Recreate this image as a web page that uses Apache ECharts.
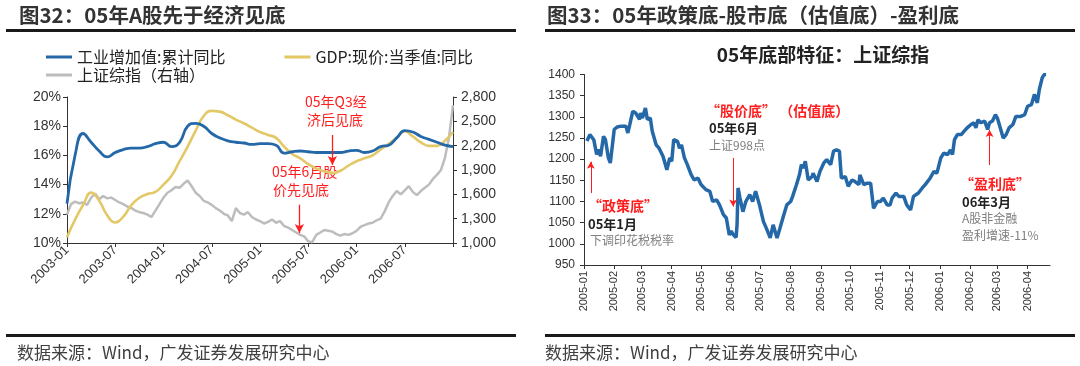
<!DOCTYPE html>
<html><head><meta charset="utf-8">
<script src="https://cdn.jsdelivr.net/npm/echarts@6/dist/echarts.min.js"></script>
<style>html,body{margin:0;padding:0;background:#fff}#c{width:1080px;height:366px}</style>
</head><body><div id="c"></div>
<script>
// ================= LEFT CHART DATA (图32) =================
const leftMonths = ['2003-01','2003-02','2003-03','2003-04','2003-05','2003-06','2003-07','2003-08','2003-09','2003-10','2003-11','2003-12',
  '2004-01','2004-02','2004-03','2004-04','2004-05','2004-06','2004-07','2004-08','2004-09','2004-10','2004-11','2004-12',
  '2005-01','2005-02','2005-03','2005-04','2005-05','2005-06','2005-07','2005-08','2005-09','2005-10','2005-11','2005-12',
  '2006-01','2006-02','2006-03','2006-04','2006-05','2006-06','2006-07','2006-08','2006-09','2006-10','2006-11','2006-12','2007-01'];
const leftTickLabels = ['2003-01','2003-07','2004-01','2004-07','2005-01','2005-07','2006-01','2006-07'];
const industryYoY = [12.7,16.0,17.5,16.9,16.3,15.9,16.2,16.4,16.5,16.5,16.6,16.8,
  16.9,16.6,16.9,18.0,18.2,18.0,17.5,17.2,17.0,16.9,16.85,16.75,
  16.8,16.8,16.7,16.15,16.25,16.3,16.25,16.2,16.2,16.2,16.2,16.3,
  16.35,16.2,16.3,16.6,16.7,17.2,17.7,17.6,17.3,17.1,16.9,16.7,16.6];
const gdpYoY = [10.4,11.6,12.6,13.45,12.9,11.9,11.4,11.8,12.6,13.1,13.35,13.5,
  14.0,14.6,15.6,16.6,17.7,18.7,19.05,19.0,18.75,18.45,18.2,17.9,
  17.6,17.4,17.2,16.6,16.1,15.8,15.4,15.1,14.9,14.8,14.95,15.3,
  15.6,15.8,16.0,16.4,16.8,17.2,17.65,17.3,16.9,16.65,16.65,17.0,17.6];
const sseDates = ['2003-01-01','2003-01-16','2003-02-01','2003-02-16','2003-03-01','2003-03-16','2003-04-01','2003-04-16','2003-05-01','2003-05-16','2003-06-01','2003-06-16',
  '2003-07-01','2003-07-16','2003-08-01','2003-08-16','2003-09-01','2003-09-16','2003-10-01','2003-10-16','2003-11-01','2003-11-16','2003-12-01','2003-12-16',
  '2004-01-01','2004-01-16','2004-02-01','2004-02-16','2004-03-01','2004-03-16','2004-04-01','2004-04-16','2004-05-01','2004-05-16','2004-06-01','2004-06-16',
  '2004-07-01','2004-07-16','2004-08-01','2004-08-16','2004-09-01','2004-09-16','2004-10-01','2004-10-16','2004-11-01','2004-11-16','2004-12-01','2004-12-16',
  '2005-01-01','2005-01-16','2005-02-01','2005-02-16','2005-03-01','2005-03-16','2005-04-01','2005-04-16','2005-05-01','2005-05-16','2005-06-01','2005-06-16',
  '2005-07-01','2005-07-16','2005-08-01','2005-08-16','2005-09-01','2005-09-16','2005-10-01','2005-10-16','2005-11-01','2005-11-16','2005-12-01','2005-12-16',
  '2006-01-01','2006-01-16','2006-02-01','2006-02-16','2006-03-01','2006-03-16','2006-04-01','2006-04-16','2006-05-01','2006-05-16','2006-06-01','2006-06-16',
  '2006-07-01','2006-07-16','2006-08-01','2006-08-16','2006-09-01','2006-09-16','2006-10-01','2006-10-16','2006-11-01','2006-11-16','2006-12-01','2006-12-16','2007-01-01'];
const sseValues = [1350,1480,1510,1490,1500,1470,1560,1610,1540,1580,1550,1560,
  1530,1500,1480,1450,1430,1400,1380,1370,1350,1320,1400,1480,
  1560,1620,1650,1690,1680,1730,1770,1700,1620,1580,1520,1500,
  1470,1430,1400,1360,1340,1270,1430,1370,1350,1380,1320,1290,
  1270,1240,1260,1290,1250,1270,1210,1190,1160,1130,1100,1080,
  1020,1010,1100,1130,1160,1150,1140,1110,1090,1110,1100,1120,
  1150,1200,1220,1240,1250,1280,1300,1390,1500,1580,1640,1600,
  1650,1700,1630,1590,1640,1680,1720,1790,1840,1900,2050,2300,2700];

// ================= RIGHT CHART DATA (图33) =================
const rDates = ['2005-01-04','2005-01-07','2005-01-11','2005-01-14','2005-01-16','2005-01-18','2005-01-21','2005-01-23','2005-01-26','2005-01-28',
  '2005-02-01','2005-02-04','2005-02-08','2005-02-13','2005-02-15','2005-02-17','2005-02-20','2005-02-23','2005-02-27','2005-02-28',
  '2005-03-02','2005-03-05','2005-03-07','2005-03-10','2005-03-12','2005-03-16','2005-03-19','2005-03-23','2005-03-25','2005-03-27','2005-03-30',
  '2005-04-01','2005-04-03','2005-04-07','2005-04-09','2005-04-11','2005-04-14','2005-04-17','2005-04-21','2005-04-24','2005-04-28',
  '2005-05-01','2005-05-06','2005-05-10','2005-05-13','2005-05-17','2005-05-20','2005-05-24','2005-05-27','2005-05-30',
  '2005-06-01','2005-06-03','2005-06-06','2005-06-07','2005-06-08','2005-06-10','2005-06-13','2005-06-16','2005-06-20','2005-06-23','2005-06-26','2005-06-30',
  '2005-07-04','2005-07-07','2005-07-11','2005-07-14','2005-07-18','2005-07-21','2005-07-24','2005-07-28',
  '2005-08-01','2005-08-03','2005-08-07','2005-08-10','2005-08-12','2005-08-14','2005-08-16','2005-08-19','2005-08-23','2005-08-24','2005-08-28','2005-08-31',
  '2005-09-04','2005-09-07','2005-09-11','2005-09-14','2005-09-17','2005-09-20','2005-09-22','2005-09-26','2005-09-29',
  '2005-10-03','2005-10-06','2005-10-10','2005-10-11','2005-10-15','2005-10-18','2005-10-22','2005-10-25','2005-10-29',
  '2005-11-01','2005-11-04','2005-11-08','2005-11-11','2005-11-13','2005-11-17','2005-11-20','2005-11-25','2005-11-28',
  '2005-12-02','2005-12-05','2005-12-10','2005-12-14','2005-12-17','2005-12-22','2005-12-26','2005-12-29',
  '2006-01-02','2006-01-05','2006-01-09','2006-01-12','2006-01-14','2006-01-16','2006-01-19','2006-01-23','2006-01-26','2006-01-29',
  '2006-02-02','2006-02-05','2006-02-07','2006-02-09','2006-02-12','2006-02-16','2006-02-19','2006-02-21','2006-02-24','2006-02-27',
  '2006-03-01','2006-03-05','2006-03-07','2006-03-10','2006-03-13','2006-03-17','2006-03-20','2006-03-25','2006-03-29',
  '2006-04-01','2006-04-05','2006-04-08','2006-04-10','2006-04-11','2006-04-13','2006-04-16','2006-04-18','2006-04-20'];
const rValues = [1243,1258,1246,1211,1223,1207,1254,1246,1203,1191,
  1270,1276,1278,1278,1262,1282,1313,1309,1294,1309,
  1297,1321,1294,1297,1266,1234,1226,1207,1211,1175,1203,
  1195,1246,1242,1226,1234,1203,1187,1163,1151,1155,
  1140,1128,1124,1100,1104,1092,1069,1061,1021,
  1030,1022,1015,1045,1132,1108,1076,1100,1116,1100,1124,1092,
  1053,1037,1014,1045,1014,1037,1061,1092,
  1100,1112,1140,1163,1187,1179,1195,1151,1159,1167,1147,1171,
  1191,1199,1187,1219,1222,1219,1155,1159,1136,
  1151,1147,1140,1163,1140,1143,1143,1084,1100,
  1100,1108,1092,1092,1108,1120,1112,1112,1092,
  1080,1112,1120,1132,1140,1155,1171,1167,
  1203,1214,1211,1222,1211,1246,1258,1258,1266,1274,
  1282,1286,1274,1293,1286,1290,1270,1286,1290,1305,
  1297,1266,1250,1258,1274,1282,1301,1301,1305,
  1325,1329,1353,1356,1333,1364,1392,1400,1400];
const rAxisStart = '2005-01-01', rAxisEnd = '2006-04-24';

// ================= BUILD =================
const LAT = '"Liberation Sans", Arial, "Noto Sans CJK SC", sans-serif';
const CJK = '"Noto Sans CJK SC", "Liberation Sans", sans-serif';
function monthPos(s){ const p = s.split('-').map(Number); return (p[0]-2003)*12 + (p[1]-1) + ((p[2]||1)-1)/30; }

const rAxisDays = [];
for (let t = Date.parse(rAxisStart+'T00:00:00Z'); t <= Date.parse(rAxisEnd+'T00:00:00Z'); t += 86400000)
  rAxisDays.push(new Date(t).toISOString().slice(0,10));
const rMap = {}; rDates.forEach((d,i)=>{ rMap[d] = rValues[i]; });
const rSeriesData = rAxisDays.map(d => (d in rMap) ? rMap[d] : null);
const isMonthStart = (i, v) => v.slice(8) === '01';

const RED = '#FF1E1E', BLUE = '#2468A8', GOLD = '#E3C868', GREY = '#BDBDBD';
const axisCol = '#333';

function gtxt(x,y,s,opt){
  return {type:'text', x:x, y:y, silent:true,
    style: Object.assign({text:s, fill:'#333', font:'13px '+CJK, textVerticalAlign:'middle'}, opt||{})};
}

const option = {
  animation: false,
  backgroundColor: '#fff',
  grid: [
    {left: 67, top: 97, width: 386, height: 146, containLabel:false, outerBoundsMode:'none'},
    {left: 584, top: 74.5, width: 466, height: 190.5, containLabel:false, outerBoundsMode:'none'}
  ],
  legend: [
    {left: 41, top: 44, itemGap: 59, itemWidth: 26, itemHeight: 3, icon: 'rect',
     data: ['工业增加值:累计同比','GDP:现价:当季值:同比'],
     textStyle: {fontSize: 16, color: '#222', fontFamily: CJK}},
    {left: 41, top: 62, itemWidth: 26, itemHeight: 3, icon: 'rect',
     data: ['上证综指（右轴）'],
     textStyle: {fontSize: 16, color: '#222', fontFamily: CJK}}
  ],
  xAxis: [
    {type:'value', gridIndex:0, min:0, max:48, interval:6,
     axisLine:{show:true, lineStyle:{color:axisCol, width:1}},
     axisTick:{show:true, length:4, lineStyle:{color:axisCol}},
     splitLine:{show:false},
     axisLabel:{rotate:45, fontSize:13, color:'#333', fontFamily:LAT, margin:5,
       formatter: v => (v/6 < leftTickLabels.length) ? leftTickLabels[v/6] : ''}},
    {type:'category', gridIndex:1, data: rAxisDays, boundaryGap:false,
     axisLine:{show:true, lineStyle:{color:axisCol, width:1}},
     axisTick:{show:true, interval:isMonthStart, length:4, lineStyle:{color:axisCol}},
     axisLabel:{interval:isMonthStart, rotate:90, fontSize:11, color:'#333', fontFamily:LAT, margin:6,
       formatter: v => v.slice(0,7)},
     splitLine:{show:false}}
  ],
  yAxis: [
    {type:'value', gridIndex:0, min:10, max:20, interval:2,
     axisLine:{show:true, lineStyle:{color:axisCol}}, axisTick:{show:true, length:4, lineStyle:{color:axisCol}},
     splitLine:{show:false},
     axisLabel:{formatter:'{value}%', fontSize:14, color:'#333', fontFamily:LAT, margin:6}},
    {type:'value', gridIndex:0, min:1000, max:2800, interval:300, position:'right',
     axisLine:{show:true, lineStyle:{color:axisCol}}, axisTick:{show:true, length:4, lineStyle:{color:axisCol}},
     splitLine:{show:false},
     axisLabel:{formatter: v => v.toLocaleString('en-US'), fontSize:14, color:'#333', fontFamily:LAT, margin:8}},
    {type:'value', gridIndex:1, min:950, max:1400, interval:50,
     axisLine:{show:true, lineStyle:{color:axisCol}}, axisTick:{show:true, length:4, lineStyle:{color:axisCol}},
     splitLine:{show:false},
     axisLabel:{formatter: v => String(v), fontSize:12, color:'#333', fontFamily:LAT, margin:9}}
  ],
  series: [
    {name:'上证综指（右轴）', type:'line', xAxisIndex:0, yAxisIndex:1, z:1,
     data: sseDates.map((d,i)=>[monthPos(d), sseValues[i]]),
     showSymbol:false, color:GREY, lineStyle:{width:2.5, color:GREY}},
    {name:'GDP:现价:当季值:同比', type:'line', xAxisIndex:0, yAxisIndex:0, z:2,
     data: leftMonths.map((d,i)=>[monthPos(d), gdpYoY[i]]),
     showSymbol:false, smooth:0.5, color:GOLD, lineStyle:{width:2.6, color:GOLD}},
    {name:'工业增加值:累计同比', type:'line', xAxisIndex:0, yAxisIndex:0, z:3,
     data: leftMonths.map((d,i)=>[monthPos(d), industryYoY[i]]),
     showSymbol:false, smooth:0.5, color:BLUE, lineStyle:{width:2.8, color:BLUE},
     markLine:{silent:true, symbol:['none','arrow'], symbolSize:[7,9], animation:false,
       label:{show:false}, lineStyle:{color:RED, width:1.3, type:'solid'},
       data:[
         [{coord:[33.0, 17.4]}, {coord:[33.0, 15.35]}],
         [{coord:[28.9, 12.62]}, {coord:[28.9, 10.68]}]
       ]}},
    {name:'上证综指', type:'line', xAxisIndex:1, yAxisIndex:2, z:3,
     data: rSeriesData, connectNulls:true,
     showSymbol:false, color:BLUE, lineStyle:{width:3.5, color:BLUE},
     markLine:{silent:true, symbol:['none','arrow'], symbolSize:[6,7], animation:false,
       label:{show:false}, lineStyle:{color:RED, width:1, type:'solid'},
       data:[
         [{coord:['2005-01-08', 1120]}, {coord:['2005-01-08', 1194]}],
         [{coord:['2005-06-03', 1203]}, {coord:['2005-06-03', 1088]}],
         [{coord:['2006-02-21', 1186]}, {coord:['2006-02-21', 1269]}]
       ]}}
  ],
  graphic: [
    // Titles
    gtxt(19, 15, '图32：05年A股先于经济见底', {font:'bold 20.5px '+CJK, fill:'#333'}),
    gtxt(547, 15, '图33：05年政策底-股市底（估值底）-盈利底', {font:'bold 20.5px '+CJK, fill:'#333'}),
    {type:'rect', silent:true, shape:{x:6, y:29, width:510, height:3}, style:{fill:'#1a1a1a'}},
    {type:'rect', silent:true, shape:{x:545, y:29, width:530, height:3}, style:{fill:'#1a1a1a'}},
    // Footers
    {type:'rect', silent:true, shape:{x:6, y:334, width:510, height:3}, style:{fill:'#1a1a1a'}},
    {type:'rect', silent:true, shape:{x:545, y:334, width:530, height:3}, style:{fill:'#1a1a1a'}},
    gtxt(17, 353, '数据来源：Wind，广发证券发展研究中心', {font:'17px '+CJK, fill:'#404040'}),
    gtxt(545, 353, '数据来源：Wind，广发证券发展研究中心', {font:'17px '+CJK, fill:'#404040'}),
    // Right subtitle
    gtxt(823, 55, '05年底部特征：上证综指', {font:'bold 19px '+CJK, fill:'#222', textAlign:'center'}),
    // Left annotations
    gtxt(305, 102, '05年Q3经', {font:'14px '+CJK, fill:RED}),
    gtxt(307, 120, '济后见底', {font:'14px '+CJK, fill:RED}),
    gtxt(272, 172, '05年6月股', {font:'14px '+CJK, fill:RED}),
    gtxt(273, 190, '价先见底', {font:'14px '+CJK, fill:RED}),
    // Right annotations
    gtxt(588, 206, '“政策底”', {font:'bold 14px '+CJK, fill:RED}),
    gtxt(588, 224, '05年1月', {font:'bold 13px '+CJK, fill:'#222'}),
    gtxt(590, 240, '下调印花税税率', {font:'12px '+CJK, fill:'#7f7f7f'}),
    gtxt(706, 111, '“股价底” （估值底）', {font:'bold 14px '+CJK, fill:RED}),
    gtxt(709, 128, '05年6月', {font:'bold 13px '+CJK, fill:'#222'}),
    gtxt(709, 145, '上证998点', {font:'12px '+CJK, fill:'#7f7f7f'}),
    gtxt(960, 184, '“盈利底”', {font:'bold 14px '+CJK, fill:RED}),
    gtxt(962, 202, '06年3月', {font:'bold 13px '+CJK, fill:'#222'}),
    gtxt(962, 218, 'A股非金融', {font:'12px '+CJK, fill:'#7f7f7f'}),
    gtxt(962, 235, '盈利增速-11%', {font:'12px '+CJK, fill:'#7f7f7f'})
  ]
};
const chart = echarts.init(document.getElementById('c'));
chart.setOption(option);
</script>
</body></html>
